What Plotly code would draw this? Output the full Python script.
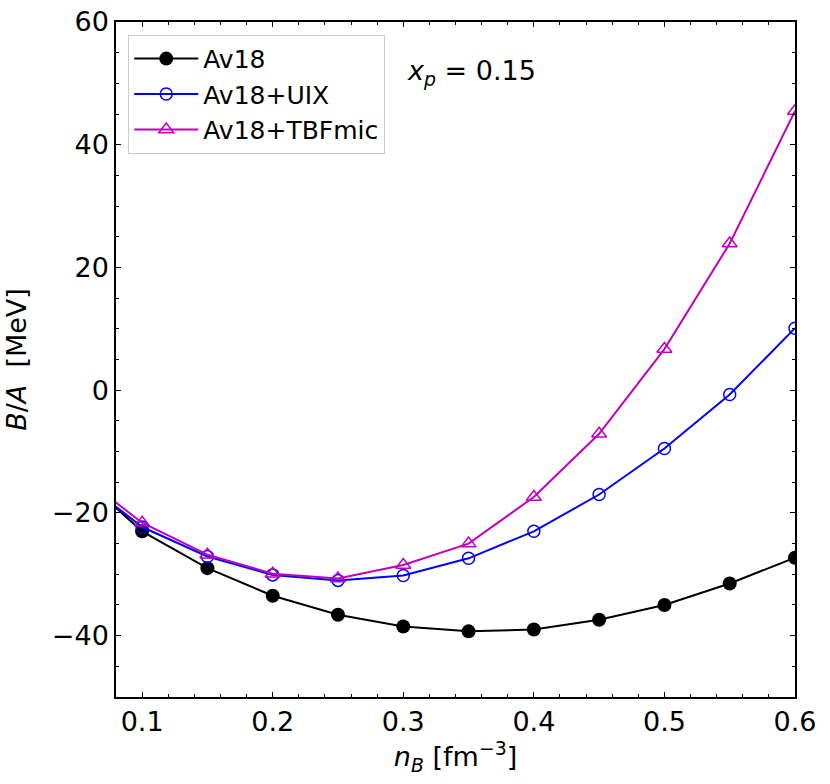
import plotly.graph_objects as go

# baryon density [fm^-3] and binding energy per nucleon [MeV], x_p = 0.15
nb = [0.05, 0.10, 0.15, 0.20, 0.25, 0.30, 0.35, 0.40, 0.45, 0.50, 0.55, 0.60]
av18 = [-13.5, -23.0, -29.0, -33.5, -36.6, -38.5, -39.3, -39.0, -37.4, -35.0, -31.5, -27.3]
av18_uix = [-14.0, -22.3, -27.1, -30.1, -31.0, -30.2, -27.4, -23.0, -17.0, -9.5, -0.7, 10.1]
av18_tbfmic = [-13.4, -21.6, -26.8, -29.9, -30.7, -28.5, -25.0, -17.4, -7.1, 6.7, 23.9, 45.5]

FONT = "DejaVu Sans"
MAG = "#bf00bf"

fig = go.Figure()
fig.add_trace(go.Scatter(
    x=nb, y=av18, name="Av18", mode="lines+markers",
    line=dict(color="black", width=2),
    marker=dict(symbol="circle", size=14, color="black"),
))
fig.add_trace(go.Scatter(
    x=nb, y=av18_uix, name="Av18+UIX", mode="lines+markers",
    line=dict(color="blue", width=2),
    marker=dict(symbol="circle-open", size=12, color="blue", line=dict(width=1.5)),
))
fig.add_trace(go.Scatter(
    x=nb, y=av18_tbfmic, name="Av18+TBFmic", mode="lines+markers",
    line=dict(color=MAG, width=2),
    marker=dict(symbol="triangle-up-open", size=13, color=MAG, line=dict(width=1.5)),
))

axis_common = dict(
    showline=True, linecolor="black", linewidth=1.5, mirror="allticks",
    ticks="inside", ticklen=5, tickwidth=1, tickcolor="black",
    showgrid=False, zeroline=False, ticklabeloverflow="allow", automargin=False,
    tickfont=dict(family=FONT, size=27, color="black"),
)

fig.update_xaxes(
    range=[0.08, 0.6], tick0=0.1, dtick=0.1,
    minor=dict(dtick=0.02, ticks="inside", ticklen=3, tickcolor="black"),
    title=dict(text="<i>n</i><sub><i>B</i></sub> [fm<sup>−3</sup>]",
               font=dict(family=FONT, size=27, color="black"), standoff=6),
    **axis_common,
)
fig.update_yaxes(
    range=[-50, 60], tick0=0, dtick=20,
    minor=dict(dtick=5, ticks="inside", ticklen=3, tickcolor="black"),
    title=dict(text="<i>B</i>/<i>A</i> &nbsp;[MeV]",
               font=dict(family=FONT, size=27, color="black"), standoff=17),
    **axis_common,
)

fig.add_annotation(
    text="<i>x</i><sub><i>p</i></sub> = 0.15", xref="paper", yref="paper",
    x=0.425, y=0.925, xanchor="left", yanchor="middle", showarrow=False,
    font=dict(family=FONT, size=27, color="black"),
)

fig.update_layout(
    width=830, height=784,
    margin=dict(l=116, r=35, t=22, b=87),
    paper_bgcolor="white", plot_bgcolor="white",
    showlegend=True,
    legend=dict(
        x=0.018, y=0.981, xanchor="left", yanchor="top",
        bgcolor="rgba(255,255,255,0.8)", bordercolor="#cccccc", borderwidth=1,
        font=dict(family=FONT, size=25, color="black"),
        itemwidth=64,
    ),
)

# drop the default body margin so the 830x784 figure fills the window exactly
fig.write_html("out.html", config={"displayModeBar": False},
               post_script="document.body.style.margin = '0';")
